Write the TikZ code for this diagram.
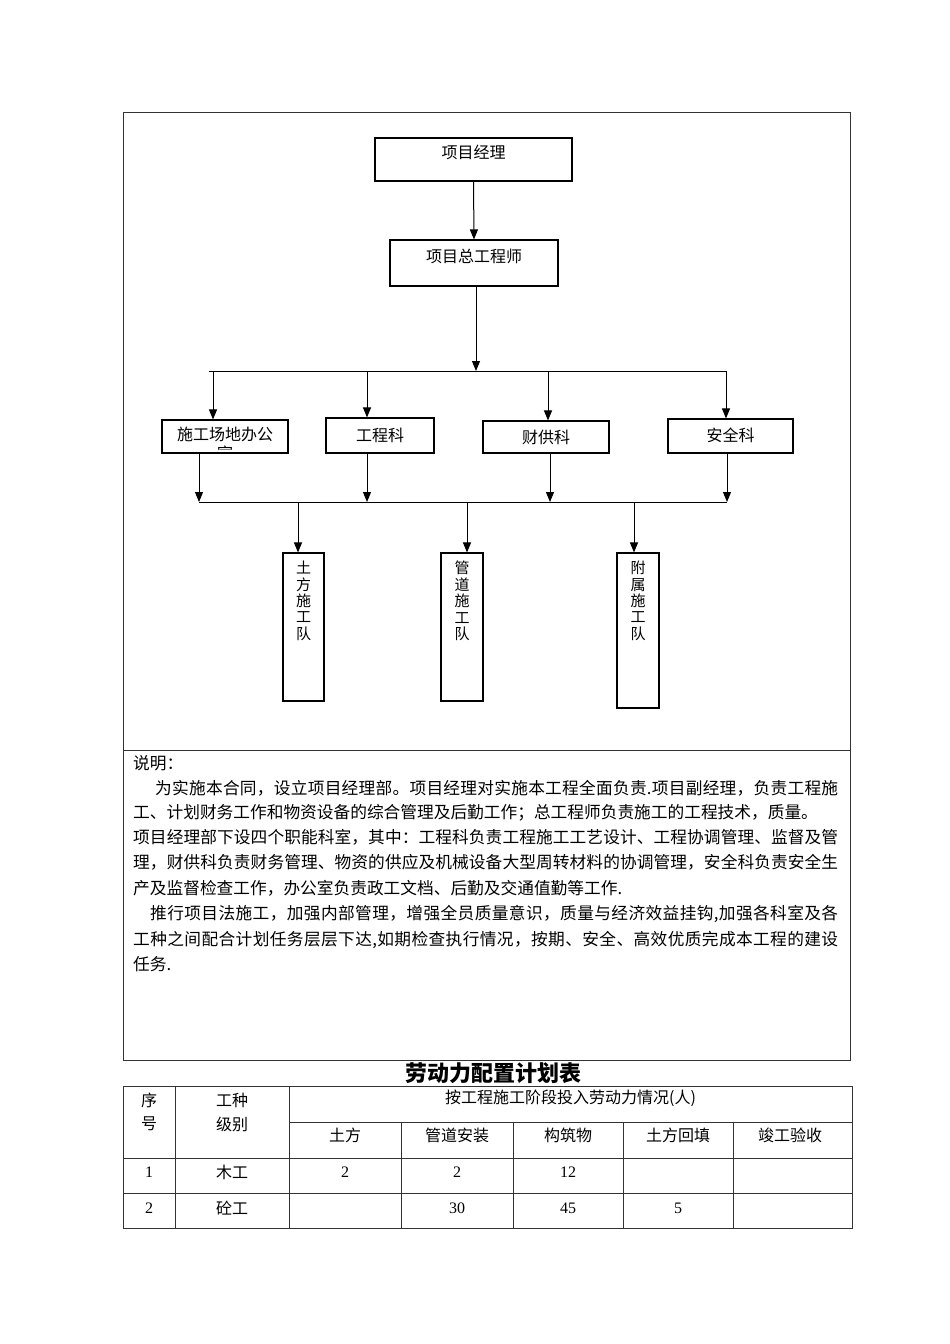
\documentclass[tikz,border=0pt]{standalone}
\usepackage{fontspec}
\setmainfont{Liberation Serif}
\newfontfamily\cjk{Noto Sans CJK SC}
\usetikzlibrary{arrows.meta}
\def\spreadloop#1{\ifx#1\relax\else#1\hfil\expandafter\spreadloop\fi}
\newcommand\spreadline[2]{\hbox to #1{\spreadloop#2\relax\unskip}}
\tikzset{
  box/.style={draw, line width=1.1pt, rectangle, inner sep=0pt},
  arr/.style={line width=1pt, -{Triangle[length=10pt,width=8pt]}},
  plain/.style={line width=1pt},
  frame/.style={line width=0.9pt, draw=black!80},
  txt/.style={inner sep=0pt, font=\cjk\fontsize{16}{18}\selectfont},
  vtxt/.style={inner sep=0pt, align=center, font=\cjk\fontsize{15}{16.4}\selectfont},
  para/.style={inner sep=0pt, anchor=base west, font=\cjk\fontsize{16.7}{20}\selectfont},
  cell/.style={inner sep=0pt, font=\cjk\fontsize{16}{24}\selectfont},
  num/.style={inner sep=0pt, font=\fontsize{16}{18}\selectfont},
}
\begin{document}
\begin{tikzpicture}[x=1pt,y=-1pt]
\fill[white] (0,0) rectangle (950,1344);
\useasboundingbox (0,0) rectangle (950,1344);

% outer frame
\draw[frame] (123,112) rectangle (850,1060);
\draw[frame] (123,750) -- (850,750);

% ---- org chart boxes ----
\node[box, minimum width=197pt, minimum height=43pt] (pm) at (473.5,159.5) {};
\node[txt] (pmt) at (473.5,152) {项目经理};
\node[box, minimum width=168pt, minimum height=46pt] (pce) at (474,263) {};
\node[txt] (pcet) at (474,256) {项目总工程师};

\node[box, minimum width=126pt, minimum height=33pt] (b1) at (225,436.5) {};
\node[txt] (b1t) at (225,434) {施工场地办公};
\begin{scope}
  \clip (163,421) rectangle (287,449.5);
  \node[txt] (b1t2) at (225,453) {室};
\end{scope}
\node[box, minimum width=108pt, minimum height=35pt] (b2) at (380,435.5) {};
\node[txt] (b2t) at (380,435) {工程科};
\node[box, minimum width=126pt, minimum height=32pt] (b3) at (546,437) {};
\node[txt] (b3t) at (546,437) {财供科};
\node[box, minimum width=125pt, minimum height=34pt] (b4) at (730.5,436) {};
\node[txt] (b4t) at (730.5,435) {安全科};

\node[box, minimum width=41pt, minimum height=148pt] (v1) at (303.5,627) {};
\node[vtxt, anchor=north] (v1t) at (303.5,561) {土\\方\\施\\工\\队};
\node[box, minimum width=42pt, minimum height=148pt] (v2) at (462,627) {};
\node[vtxt, anchor=north] (v2t) at (462,561) {管\\道\\施\\工\\队};
\node[box, minimum width=42pt, minimum height=155pt] (v3) at (638,630.5) {};
\node[vtxt, anchor=north] (v3t) at (638,561) {附\\属\\施\\工\\队};

% ---- connectors ----
\draw[arr] (pm.south) -- (pce.north);
\coordinate (bus1) at (476,371);
\draw[arr] (pce.south -| bus1) -- (bus1);
\coordinate (bl1) at (209,371);
\coordinate (br1) at (726,371);
\draw[plain] (bl1) -- (br1);
\coordinate (d1) at (213,371);
\coordinate (d2) at (367,371);
\coordinate (d3) at (548,371);
\coordinate (d4) at (726,371);
\draw[arr] (d1) -- (d1 |- b1.north);
\draw[arr] (d2) -- (d2 |- b2.north);
\draw[arr] (d3) -- (d3 |- b3.north);
\draw[arr] (d4) -- (d4 |- b4.north);

\coordinate (u1) at (199,502);
\coordinate (u2) at (367,502);
\coordinate (u3) at (550,502);
\coordinate (u4) at (727,502);
\draw[arr] (u1 |- b1.south) -- (u1);
\draw[arr] (u2 |- b2.south) -- (u2);
\draw[arr] (u3 |- b3.south) -- (u3);
\draw[arr] (u4 |- b4.south) -- (u4);
\draw[plain] (u1) -- (u4);

\coordinate (e1) at (298,502);
\coordinate (e2) at (467,502);
\coordinate (e3) at (634,502);
\draw[arr] (e1) -- (e1 |- v1.north);
\draw[arr] (e2) -- (e2 |- v2.north);
\draw[arr] (e3) -- (e3 |- v3.north);

% ---- explanation text ----
\node[para] (p0) at (133,769) {说明：};
\node[para] (p1) at (155,794) {\spreadline{683pt}{为实施本合同，设立项目经理部。项目经理对实施本工程全面负责.项目副经理，负责工程施}};
\node[para] (p2) at (133,818.5) {工、计划财务工作和物资设备的综合管理及后勤工作；总工程师负责施工的工程技术，质量。};
\node[para] (p3) at (133,843.5) {\spreadline{705pt}{项目经理部下设四个职能科室，其中：工程科负责工程施工工艺设计、工程协调管理、监督及管}};
\node[para] (p4) at (133,868.5) {\spreadline{705pt}{理，财供科负责财务管理、物资的供应及机械设备大型周转材料的协调管理，安全科负责安全生}};
\node[para] (p5) at (133,894) {产及监督检查工作，办公室负责政工文档、后勤及交通值勤等工作.};
\node[para] (p6) at (150,919.5) {\spreadline{688pt}{推行项目法施工，加强内部管理，增强全员质量意识，质量与经济效益挂钩,加强各科室及各}};
\node[para] (p7) at (133,945) {\spreadline{705pt}{工种之间配合计划任务层层下达,如期检查执行情况，按期、安全、高效优质完成本工程的建设}};
\node[para] (p8) at (133,970.5) {任务.};

% ---- table ----
\node[inner sep=0pt, font=\cjk\bfseries\fontsize{22}{24}\selectfont] (title) at (493,1073) {劳动力配置计划表};

\draw[frame] (123,1086) rectangle (852,1228);
\draw[frame] (289,1122) -- (852,1122);
\draw[frame] (123,1158) -- (852,1158);
\draw[frame] (123,1193) -- (852,1193);
\draw[frame] (175,1086) -- (175,1228);
\draw[frame] (289,1086) -- (289,1228);
\draw[frame] (401,1122) -- (401,1228);
\draw[frame] (513,1122) -- (513,1228);
\draw[frame] (623,1122) -- (623,1228);
\draw[frame] (733,1122) -- (733,1228);

\node[cell] (h1a) at (149,1100) {序};
\node[cell] (h1b) at (149,1124) {号};
\node[cell] (h2a) at (232,1100) {工种};
\node[cell] (h2b) at (232,1124) {级别};
\node[cell] (h3) at (570.5,1098) {按工程施工阶段投入劳动力情况(人)};
\node[cell] (s1) at (345,1135) {土方};
\node[cell] (s2) at (457,1135) {管道安装};
\node[cell] (s3) at (568,1135) {构筑物};
\node[cell] (s4) at (678,1135) {土方回填};
\node[cell] (s5) at (790,1135) {竣工验收};

\node[num] (r1a) at (149,1172) {1};
\node[cell] (r1b) at (232,1172) {木工};
\node[num] (r1c) at (345,1172) {2};
\node[num] (r1d) at (457,1172) {2};
\node[num] (r1e) at (568,1172) {12};

\node[num] (r2a) at (149,1208) {2};
\node[cell] (r2b) at (232,1208) {砼工};
\node[num] (r2d) at (457,1208) {30};
\node[num] (r2e) at (568,1208) {45};
\node[num] (r2f) at (678,1208) {5};
\end{tikzpicture}
\end{document}
